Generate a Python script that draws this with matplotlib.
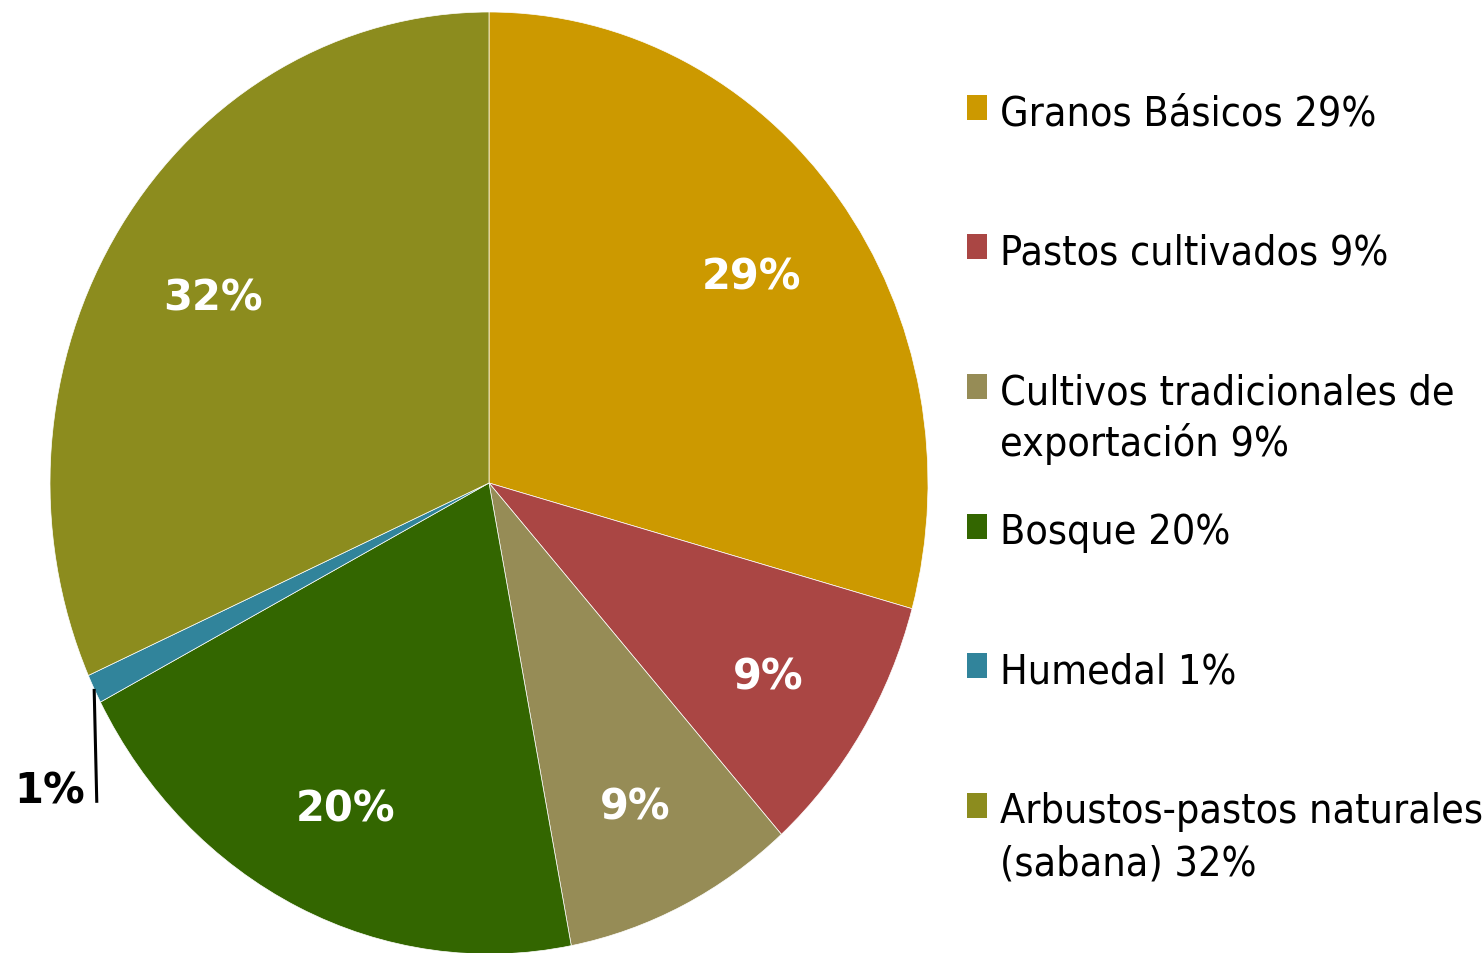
import numpy as np
import matplotlib
matplotlib.use("Agg")
import matplotlib.pyplot as plt
from matplotlib.patches import Rectangle
from matplotlib.transforms import offset_copy

categories = ["Granos Básicos", "Pastos cultivados", "Cultivos tradicionales de\nexportación",
              "Bosque", "Humedal", "Arbustos-pastos naturales\n(sabana)"]
values = [29.3, 9.1, 8.6, 20.3, 1.0, 31.7]
colors = ["#CC9900", "#AA4644", "#968C56", "#336600", "#31849B", "#8C8C1E"]

W, H = 1484, 954
fig = plt.figure(figsize=(W / 100, H / 100), dpi=100)
fig.patch.set_facecolor("white")

cx, cy, rx, ry = 489, 484, 439, 471
ax = fig.add_axes([(cx - rx) / W, (H - cy - ry) / H, 2 * rx / W, 2 * ry / H])

LEG_FONT = dict(family="DejaVu Sans", fontstretch="condensed")
total = sum(values)

def pct_fmt(p):
    return "" if p < 2 else f"{p:.0f}%"

wedges, texts, autotexts = ax.pie(values, colors=colors, startangle=90, counterclock=False,
                                  autopct=pct_fmt, pctdistance=0.75,
                                  wedgeprops=dict(edgecolor="white", linewidth=0.5),
                                  textprops=dict(color="white", fontsize=30, fontweight="bold",
                                                 family="DejaVu Sans"))
ax.set_aspect("auto")
ax.set_xlim(-1, 1)
ax.set_ylim(-1, 1)
ax.axis("off")
for w in wedges:
    w.set_clip_on(False)
shift = offset_copy(ax.transData, fig=fig, x=0, y=-7, units="dots")
for t in autotexts:
    t.set_transform(shift)

# Small slice label outside with leader line
hw = wedges[4]
ang = np.deg2rad((hw.theta1 + hw.theta2) / 2)
ex, ey = np.cos(ang), np.sin(ang)
ax.plot([ex, ex + 0.006], [ey, -0.679], color="black", lw=2.2, clip_on=False, solid_capstyle="butt")
ax.text(-0.920, -0.679, f"{values[4] / total * 100:.0f}%", ha="right", va="baseline",
        fontsize=30, fontweight="bold", color="black", family="DejaVu Sans")

# Legend
pct_labels = [f"{v / total * 100:.0f}%" for v in values]
y0, dy = 108, 139.7
for i, (cat, col, pl) in enumerate(zip(categories, colors, pct_labels)):
    yc = y0 + i * dy
    fig.patches.append(Rectangle((967 / W, 1 - (yc + 12.5) / H), 20 / W, 25 / H,
                                 transform=fig.transFigure, facecolor=col, edgecolor="none"))
    lines = (cat + " " + pl).split("\n")
    for j, ln in enumerate(lines):
        base = yc + 17 + j * 52
        fig.text(1000 / W, 1 - base / H, ln, ha="left", va="baseline", fontsize=29.5,
                 color="black", **LEG_FONT)

fig.savefig("out.png", dpi=100, facecolor="white")
